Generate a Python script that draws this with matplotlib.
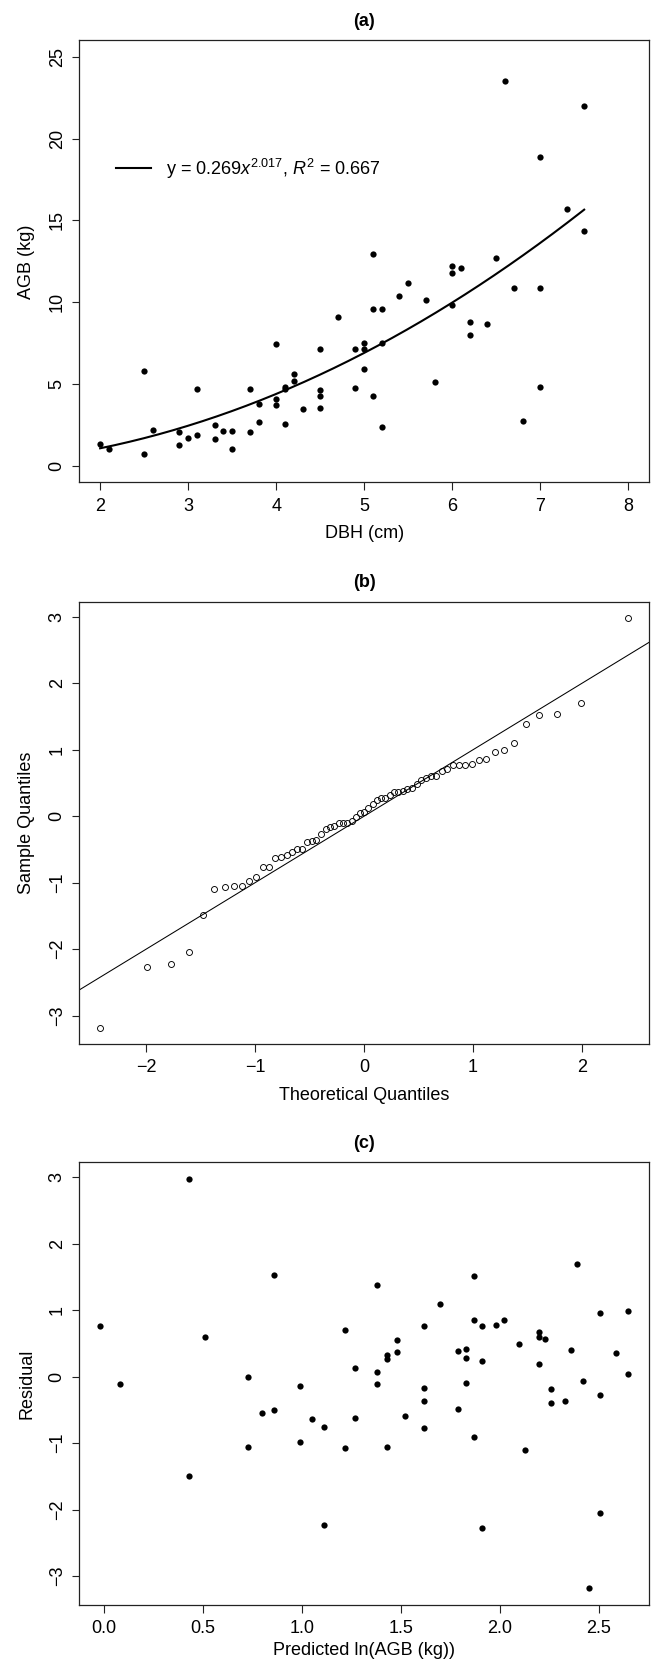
import numpy as np
import matplotlib
matplotlib.use("Agg")
import matplotlib.pyplot as plt
from statistics import NormalDist

plt.rcParams['font.family'] = ['Liberation Sans', 'DejaVu Sans']
plt.rcParams['mathtext.fontset'] = 'custom'
plt.rcParams['mathtext.rm'] = 'Liberation Sans'
plt.rcParams['mathtext.it'] = 'Liberation Sans:italic'
plt.rcParams['axes.unicode_minus'] = True

# (a) tree diameter vs above-ground biomass
dbh = [2.0, 2.1, 2.5, 2.5, 2.6, 2.9, 2.9, 3.0, 3.1, 3.1, 3.3, 3.3, 3.4, 3.5, 3.5,
       3.7, 3.7, 3.8, 3.8, 4.0, 4.0, 4.0, 4.1, 4.1, 4.1, 4.2, 4.2, 4.3, 4.5, 4.5,
       4.5, 4.5, 4.7, 4.9, 4.9, 5.0, 5.0, 5.0, 5.1, 5.1, 5.1, 5.2, 5.2, 5.2, 5.4,
       5.5, 5.7, 5.8, 6.0, 6.0, 6.0, 6.1, 6.2, 6.2, 6.4, 6.5, 6.6, 6.7, 6.8, 7.0,
       7.0, 7.0, 7.3, 7.5, 7.5]
agb = [1.35, 1.03, 5.79, 0.76, 2.18, 2.07, 1.27, 1.72, 4.69, 1.90, 2.51, 1.68, 2.14, 2.14, 1.07,
       4.69, 2.07, 3.80, 2.69, 7.45, 4.10, 3.76, 4.85, 4.72, 2.57, 5.61, 5.17, 3.49, 7.14, 4.65,
       4.26, 3.52, 9.10, 7.14, 4.76, 7.53, 7.14, 5.94, 12.97, 9.59, 4.26, 9.59, 7.49, 2.38, 10.41,
       11.18, 10.15, 5.11, 12.23, 11.77, 9.81, 12.07, 8.82, 8.03, 8.67, 12.73, 23.52, 10.90, 2.73, 18.89,
       10.85, 4.85, 15.72, 21.99, 14.34]
coef_a, coef_b, r2 = 0.269, 2.017, 0.667

# (c) fitted ln(AGB) and standardised residuals
pred = [-0.02, 0.08, 0.43, 0.43, 0.51, 0.73, 0.73, 0.80, 0.86, 0.86, 0.99, 0.99, 1.05, 1.11, 1.11,
        1.22, 1.22, 1.27, 1.27, 1.38, 1.38, 1.38, 1.43, 1.43, 1.43, 1.48, 1.48, 1.52, 1.62, 1.62,
        1.62, 1.62, 1.70, 1.79, 1.79, 1.83, 1.83, 1.83, 1.87, 1.87, 1.87, 1.91, 1.91, 1.91, 1.98,
        2.02, 2.10, 2.13, 2.20, 2.20, 2.20, 2.23, 2.26, 2.26, 2.33, 2.36, 2.39, 2.42, 2.45, 2.51,
        2.51, 2.51, 2.59, 2.65, 2.65]
resid = [0.77, -0.11, 2.98, -1.49, 0.60, -0.01, -1.05, -0.54, 1.53, -0.50, -0.145, -0.98, -0.63, -0.76, -2.23,
         0.71, -1.07, 0.13, -0.62, 1.38, 0.07, -0.11, 0.32, 0.27, -1.05, 0.55, 0.37, -0.59, 0.77, -0.17,
         -0.36, -0.77, 1.10, 0.38, -0.49, 0.42, 0.28, -0.10, 1.52, 0.85, -0.91, 0.77, 0.24, -2.27, 0.78,
         0.86, 0.49, -1.10, 0.68, 0.60, 0.19, 0.57, -0.19, -0.39, -0.37, 0.41, 1.70, -0.07, -3.18, 0.96,
         -0.27, -2.05, 0.36, 0.99, 0.04]

FS = 13


def padded(vals, frac=0.04):
    lo, hi = min(vals), max(vals)
    d = (hi - lo) * frac
    return lo - d, hi + d


def style(ax, title, xlabel, ylabel, xlab_y=-0.097):
    ax.set_title(title, fontsize=FS, fontweight='bold', pad=10.4)
    ax.set_xlabel(xlabel, fontsize=FS, va='top')
    ax.set_ylabel(ylabel, fontsize=FS)
    ax.xaxis.set_label_coords(0.5, xlab_y)
    ax.yaxis.set_label_coords(-0.077, 0.5)
    ax.tick_params(length=5.4, width=0.8, labelsize=FS, color='#222222')
    ax.tick_params(axis='x', pad=5.6)
    ax.tick_params(axis='y', pad=4.2)
    plt.setp(ax.get_yticklabels(), rotation=90, va='center')
    for s in ax.spines.values():
        s.set_linewidth(0.9)
        s.set_color('#222222')


fig = plt.figure(figsize=(6.54, 16.6), dpi=100)
ax_a = fig.add_axes([0.1208, 0.70934, 0.872, 0.26639])
ax_b = fig.add_axes([0.1208, 0.37114, 0.872, 0.26639])
ax_c = fig.add_axes([0.1208, 0.03343, 0.872, 0.26639])

# (a) scatter with power-law fit
ax_a.plot(dbh, agb, 'o', color='black', ms=4.5, mew=0)
xs = np.linspace(min(dbh), max(dbh), 200)
ax_a.plot(xs, coef_a * xs ** coef_b, color='black', lw=1.5,
          label=r'y = 0.269$x^{2.017}$, $R^2$ = 0.667')
ax_a.set_xlim(1.76, 8.24)
ax_a.set_ylim(-1.0, 26.0)
ax_a.set_xticks(range(2, 9))
ax_a.set_yticks(range(0, 26, 5))
style(ax_a, '(a)', 'DBH (cm)', 'AGB (kg)')
ax_a.legend(loc='center left', bbox_to_anchor=(0.0644, 0.710), frameon=False,
            fontsize=FS, handlelength=1.94, handletextpad=0.87,
            borderpad=0, borderaxespad=0)

# (b) normal Q-Q plot of the residuals
n = len(resid)
theo = [NormalDist().inv_cdf((i + 0.5) / n) for i in range(n)]
ax_b.plot(theo, sorted(resid), 'o', mfc='none', mec='black', ms=4.3, mew=0.65)
ax_b.axline((0, 0), slope=1, color='black', lw=0.75)
ax_b.set_xlim(*padded(theo))
ax_b.set_ylim(*padded(resid))
ax_b.set_xticks(range(-2, 3))
ax_b.set_yticks(range(-3, 4))
style(ax_b, '(b)', 'Theoretical Quantiles', 'Sample Quantiles')

# (c) residuals vs fitted
ax_c.plot(pred, resid, 'o', color='black', ms=4.5, mew=0)
ax_c.set_xlim(*padded(pred))
ax_c.set_ylim(*padded(resid))
cx = [0.0, 0.5, 1.0, 1.5, 2.0, 2.5]
ax_c.set_xticks(cx, [f'{t:.1f}' for t in cx])
ax_c.set_yticks(range(-3, 4))
style(ax_c, '(c)', 'Predicted ln(AGB (kg))', 'Residual', xlab_y=-0.084)

fig.savefig('out.png', dpi=100)
